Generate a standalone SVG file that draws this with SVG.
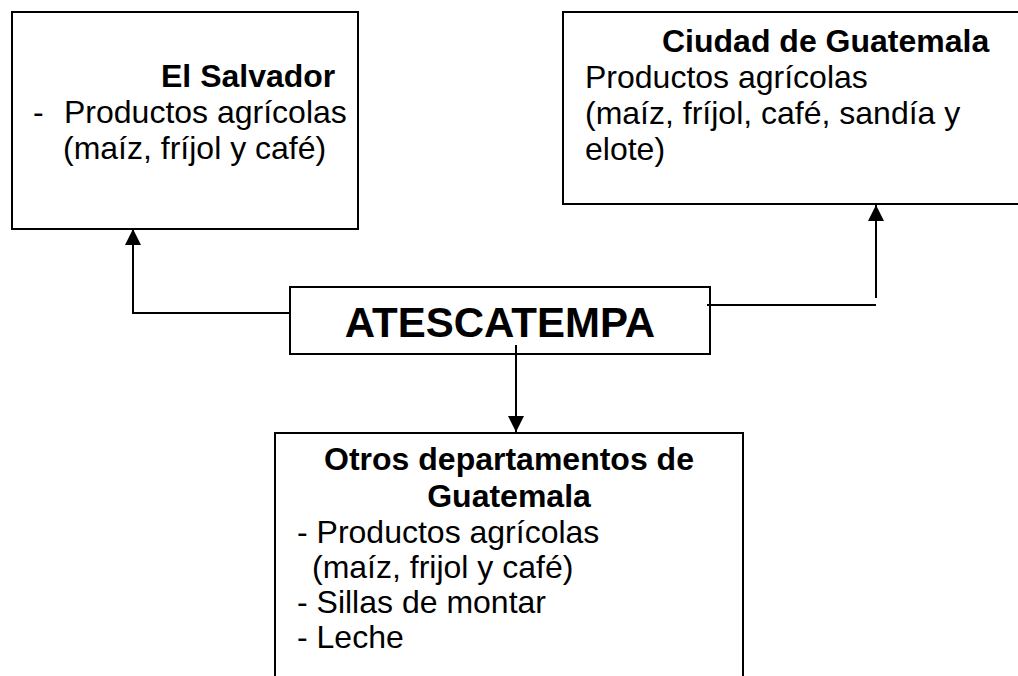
<svg xmlns="http://www.w3.org/2000/svg" width="1018" height="676" viewBox="0 0 1018 676">
  <style>
    .box { fill: #ffffff; stroke: #000000; stroke-width: 2; }
    .conn { fill: none; stroke: #000000; stroke-width: 2; }
    .t { font-family: "Liberation Sans", Arial, sans-serif; font-size: 32px; fill: #000000; }
    .b { font-weight: bold; }
    .big { font-family: "Liberation Sans", Arial, sans-serif; font-size: 42px; font-weight: bold; fill: #000000; }
  </style>
  <defs>
    <marker id="arrow" markerUnits="userSpaceOnUse" markerWidth="16" markerHeight="16" viewBox="0 0 16 16" refX="16" refY="8" orient="auto">
      <path d="M0,0 L16,8 L0,16 Z" fill="#000000"/>
    </marker>
  </defs>
  <rect width="1018" height="676" fill="#ffffff"/>

  <g id="el-salvador">
    <rect class="box" x="12" y="12" width="346" height="217"/>
    <text class="t b" x="161" y="87">El Salvador</text>
    <text class="t" x="33" y="123">-</text>
    <text class="t" x="64" y="123">Productos agrícolas</text>
    <text class="t" x="63" y="159">(maíz, fríjol y café)</text>
  </g>

  <g id="ciudad-guatemala">
    <rect class="box" x="563" y="12" width="456" height="192"/>
    <text class="t b" x="662" y="52">Ciudad de Guatemala</text>
    <text class="t" x="585" y="88">Productos agrícolas</text>
    <text class="t" x="585" y="124">(maíz, fríjol, café, sandía y</text>
    <text class="t" x="585" y="160">elote)</text>
  </g>

  <g id="atescatempa">
    <rect class="box" x="290" y="287" width="420" height="67"/>
    <text class="big" x="500" y="337" text-anchor="middle">ATESCATEMPA</text>
  </g>

  <g id="otros-departamentos">
    <path class="box" d="M275,680 V433 H743 V680"/>
    <text class="t b" x="509" y="470" text-anchor="middle">Otros departamentos de</text>
    <text class="t b" x="509" y="507" text-anchor="middle">Guatemala</text>
    <text class="t" x="297" y="543">- Productos agrícolas</text>
    <text class="t" x="312" y="578">(maíz, frijol y café)</text>
    <text class="t" x="297" y="613">- Sillas de montar</text>
    <text class="t" x="297" y="648">- Leche</text>
  </g>

  <g id="connectors">
    <path class="conn" d="M290,313 H133 V229" marker-end="url(#arrow)"/>
    <line class="conn" x1="707" y1="305" x2="876" y2="305"/>
    <line class="conn" x1="876" y1="298" x2="876" y2="205" marker-end="url(#arrow)"/>
    <line class="conn" x1="516" y1="345" x2="516" y2="432" marker-end="url(#arrow)"/>
  </g>
</svg>
